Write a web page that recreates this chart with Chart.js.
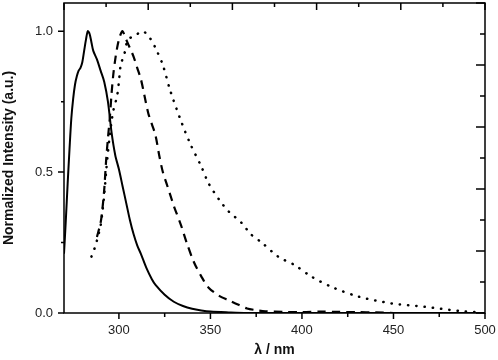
<!DOCTYPE html>
<html>
<head>
<meta charset="utf-8">
<script src="https://cdn.jsdelivr.net/npm/chart.js@4/dist/chart.umd.min.js"></script>
<style>
  body { margin: 0; background: #fff; }
  #wrap { width: 498px; height: 360px; }
</style>
</head>
<body>
<div id="wrap"><canvas id="spectraChart" width="498" height="360"></canvas></div>
<script>
// solid curve
const solidWl = [270, 271, 272, 273, 274, 275, 276, 277, 278, 279, 280, 281, 282, 283, 284, 285, 286, 288, 290, 292, 294, 296, 298, 300, 302, 304, 306, 308, 310, 312, 315, 318, 320, 325, 330, 335, 340, 345, 350, 360, 370, 400, 450, 500];
const solidI = [0.21, 0.33, 0.46, 0.58, 0.69, 0.76, 0.81, 0.84, 0.86, 0.87, 0.89, 0.93, 0.97, 1.0, 0.99, 0.96, 0.93, 0.90, 0.86, 0.82, 0.75, 0.64, 0.56, 0.51, 0.45, 0.39, 0.33, 0.28, 0.24, 0.21, 0.16, 0.12, 0.10, 0.065, 0.04, 0.025, 0.015, 0.009, 0.005, 0.002, 0.0, 0.0, 0.0, 0.0];

// dashed curve
const dashWl = [288, 290, 291, 292, 293, 294, 295, 296, 297, 298, 299, 300, 301, 302, 304, 306, 308, 310, 312, 314, 316, 318, 320, 322, 324, 326, 328, 330, 334, 337, 341, 345, 349, 355, 360, 365, 370, 375, 380, 390, 400, 410, 420, 430, 440, 450];
const dashI = [0.27, 0.32, 0.37, 0.44, 0.54, 0.62, 0.69, 0.78, 0.85, 0.90, 0.94, 0.97, 0.99, 1.0, 0.97, 0.94, 0.91, 0.87, 0.83, 0.77, 0.71, 0.67, 0.63, 0.56, 0.50, 0.46, 0.42, 0.38, 0.31, 0.25, 0.18, 0.13, 0.09, 0.06, 0.045, 0.03, 0.016, 0.01, 0.006, 0.004, 0.003, 0.005, 0.004, 0.003, 0.002, 0.0];

// dotted curve
const dotWl = [285, 287, 288.5, 290, 291, 292, 293, 294, 295, 296, 297, 299, 300, 301, 303, 305, 309, 313, 317, 320, 324, 328, 334, 339, 345, 349, 355, 360, 367, 372, 378, 387, 396, 405, 416, 431, 449, 467, 486, 495];
const dotI = [0.20, 0.235, 0.27, 0.31, 0.36, 0.42, 0.50, 0.57, 0.63, 0.68, 0.72, 0.77, 0.82, 0.88, 0.92, 0.97, 0.985, 1.0, 0.975, 0.94, 0.88, 0.79, 0.68, 0.60, 0.52, 0.46, 0.40, 0.36, 0.32, 0.28, 0.25, 0.20, 0.17, 0.13, 0.093, 0.058, 0.034, 0.022, 0.007, 0.003];

const xMin = 270, xMax = 500;
const yMin = 0, yMax = 1.1;

const toPoints = (xs, ys) => xs.map((x, i) => ({ x: x, y: ys[i] }));

// frame + inward/outward ticks
const frameTicks = {
  id: 'frameTicks',
  afterDraw(chart) {
    const ctx = chart.ctx;
    const a = chart.chartArea;
    const x = chart.scales.x, y = chart.scales.y;
    const x2 = chart.scales.x2, y2 = chart.scales.y2;
    ctx.save();
    ctx.strokeStyle = '#000';
    ctx.lineWidth = 1.5;
    ctx.strokeRect(a.left, a.top, a.right - a.left, a.bottom - a.top);
    ctx.beginPath();
    x.ticks.forEach(t => {
      if (Math.abs(t.value % 25) > 1e-6) return;
      const px = x.getPixelForValue(t.value);
      const len = t.value % 50 === 0 ? 6 : 4;
      ctx.moveTo(px, a.bottom); ctx.lineTo(px, a.bottom + len);
    });
    y.ticks.forEach(t => {
      const q = t.value * 4;
      if (Math.abs(q - Math.round(q)) > 1e-6) return;
      const py = y.getPixelForValue(t.value);
      const len = Math.round(q) % 2 === 0 ? 6 : 3;
      ctx.moveTo(a.left, py); ctx.lineTo(a.left - len, py);
    });
    x2.ticks.forEach(t => {
      const px = x2.getPixelForValue(t.value);
      const len = t.value % 2 === 0 ? 7 : 4;
      ctx.moveTo(px, a.top); ctx.lineTo(px, a.top + len);
    });
    y2.ticks.forEach(t => {
      const py = y2.getPixelForValue(t.value);
      const len = t.value % 2 === 0 ? 9 : 5;
      ctx.moveTo(a.right, py); ctx.lineTo(a.right - len, py);
    });
    ctx.stroke();
    ctx.restore();
  }
};

const ctx = document.getElementById('spectraChart').getContext('2d');
const spectraChart = new Chart(ctx, {
  type: 'line',
  data: {
    datasets: [
      {
        label: 'solid',
        data: toPoints(solidWl, solidI),
        borderColor: '#000',
        borderWidth: 2,
        pointRadius: 0,
        tension: 0.3,
        fill: false
      },
      {
        label: 'dashed',
        data: toPoints(dashWl, dashI),
        borderColor: '#000',
        borderWidth: 2.2,
        borderDash: [8.5, 6],
        pointRadius: 0,
        tension: 0.3,
        fill: false
      },
      {
        label: 'dotted',
        data: toPoints(dotWl, dotI),
        borderColor: '#000',
        borderWidth: 2.5,
        borderDash: [0.3, 8],
        borderCapStyle: 'round',
        pointRadius: 0,
        tension: 0.3,
        fill: false
      }
    ]
  },
  options: {
    responsive: false,
    animation: false,
    layout: { padding: { top: 3, right: 13, left: 0, bottom: 0 } },
    plugins: {
      legend: { display: false },
      tooltip: { enabled: false }
    },
    scales: {
      x: {
        type: 'linear',
        min: xMin,
        max: xMax,
        grid: { display: false, drawTicks: false },
        border: { display: false },
        ticks: {
          stepSize: 25,
          padding: 10,
          maxRotation: 0,
          autoSkip: false,
          color: '#222',
          font: { family: 'Liberation Sans', size: 13 },
          callback: v => (v % 50 === 0 ? String(v) : '')
        },
        title: {
          display: true,
          text: 'λ / nm',
          color: '#111',
          font: { family: 'Liberation Sans', size: 14, weight: 'bold' },
          padding: { top: 0, bottom: 1 }
        },
        afterFit: s => { s.height = 47; s.paddingLeft = 0; s.paddingRight = 0; }
      },
      y: {
        min: yMin,
        max: yMax,
        grid: { display: false, drawTicks: false },
        border: { display: false },
        ticks: {
          stepSize: 0.25,
          padding: 11,
          autoSkip: false,
          color: '#222',
          font: { family: 'Liberation Sans', size: 13 },
          callback: v => {
            const h = v * 2;
            return Math.abs(h - Math.round(h)) < 1e-6 ? v.toFixed(1) : '';
          }
        },
        title: {
          display: true,
          text: 'Normalized Intensity (a.u.)',
          color: '#111',
          font: { family: 'Liberation Sans', size: 14, weight: 'bold' },
          padding: { top: 1, bottom: 0 }
        },
        afterFit: s => { s.width = 64; s.paddingTop = 0; s.paddingBottom = 0; }
      },
      x2: {
        type: 'linear',
        position: 'top',
        min: 0,
        max: 10,
        display: false,
        ticks: { stepSize: 1 }
      },
      y2: {
        type: 'linear',
        position: 'right',
        min: 0,
        max: 10,
        display: false,
        ticks: { stepSize: 1 }
      }
    }
  },
  plugins: [frameTicks]
});
</script>
</body>
</html>
